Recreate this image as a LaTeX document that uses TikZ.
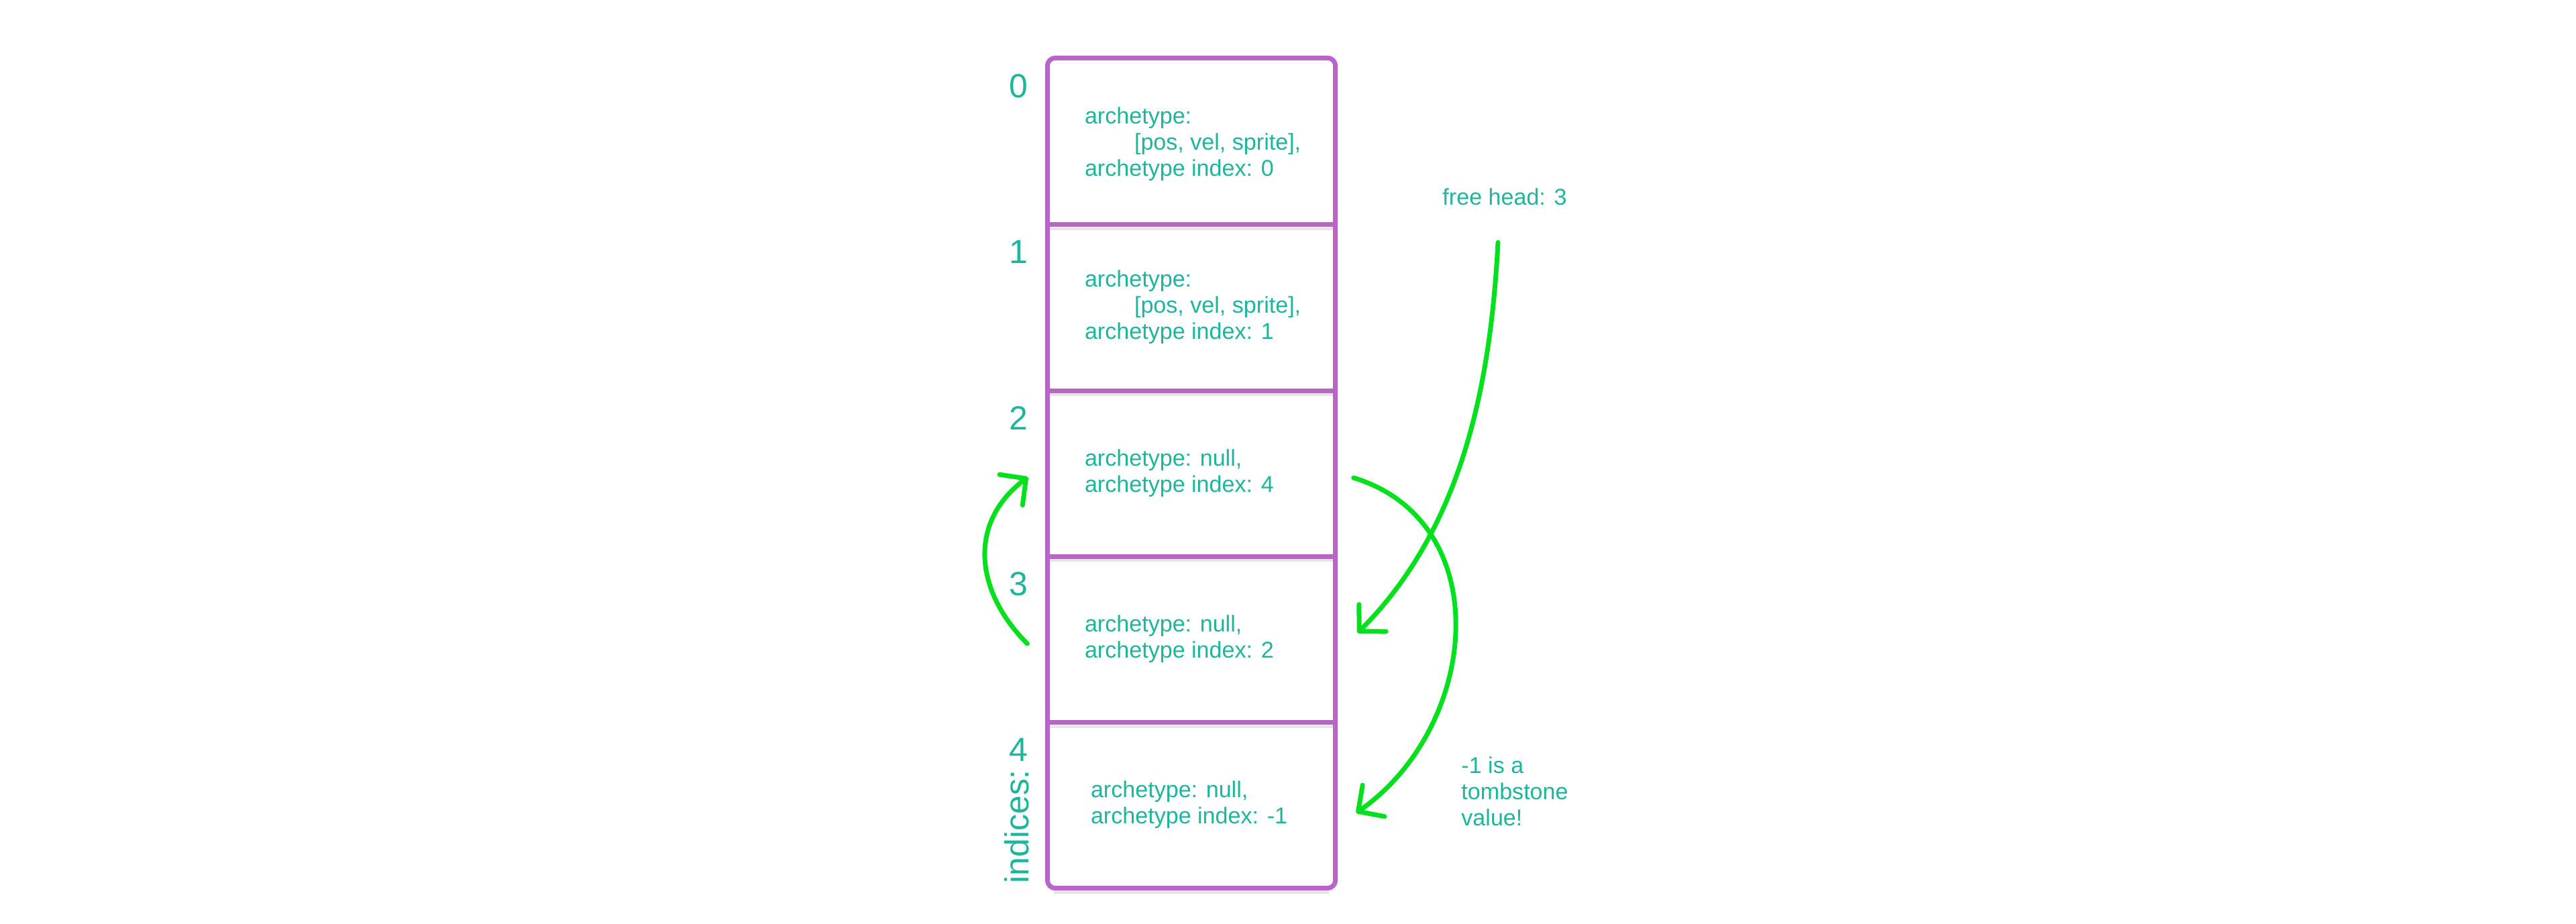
\documentclass[tikz,border=0pt]{standalone}
\usepackage{fontspec}
\setmainfont{Liberation Sans}
\usetikzlibrary{positioning,arrows.meta,calc}
\definecolor{slotpurple}{RGB}{184,100,200}
\definecolor{labelteal}{RGB}{30,181,157}
\definecolor{linkgreen}{RGB}{5,224,30}

\begin{document}
\begin{tikzpicture}[font=\fontsize{9.7}{11.1}\selectfont, text=labelteal,
    cell/.style={minimum width=4.28cm, minimum height=2.472cm, inner sep=0pt},
    frame/.style={draw=slotpurple, line width=0.07cm},
    slotshadow/.style={draw=black!10, line width=0.04cm},
    entry/.style={inner sep=0pt, align=left, anchor=west},
    idx/.style={font=\fontsize{14.2}{17}\selectfont},
    link/.style={draw=linkgreen, line width=0.07cm, line cap=round, -{Straight Barb[length=2.8mm,width=5.7mm,round]}}]
        \fill[white] (0,0) rectangle (38.4,13.76);
        \foreach \i in {0,...,4}{\node[cell] (c\i) at (17.76,{11.654-2.472*\i}) {};
            \node[idx] (n\i) at ($(c\i.north west)+(-0.43,-0.42)$) {\i};}
        \foreach \i in {0,...,3}{\draw[slotshadow] ([yshift=-0.6mm]c\i.south west) -- ([yshift=-0.6mm]c\i.south east);
            \draw[frame] (c\i.south west) -- (c\i.south east);}
        \draw[slotshadow] ([xshift=1mm,yshift=-0.6mm]c4.south west) -- ([xshift=-1mm,yshift=-0.6mm]c4.south east);
        \draw[frame, rounded corners=1.2mm] (c0.north west) rectangle (c4.south east);
        \node[idx, rotate=90] (ind) at ($(c4.south west)+(-0.46,0.92)$) {indices:};
        \node[entry, right=0.55cm of c0.west, yshift=-0.4mm] (t0) {archetype:\\\hspace*{0.74cm}[pos, vel, sprite],\\archetype index: 0};
        \node[entry, right=0.55cm of c1.west] (t1) {archetype:\\\hspace*{0.74cm}[pos, vel, sprite],\\archetype index: 1};
        \node[entry, right=0.55cm of c2.west] (t2) {archetype: null,\\archetype index: 4};
        \node[entry, right=0.55cm of c3.west] (t3) {archetype: null,\\archetype index: 2};
        \node[entry, right=0.64cm of c4.west] (t4) {archetype: null,\\archetype index: -1};
        \node[entry, anchor=center] (head) at (22.43,10.83) {free head: 3};
        \node[entry, right=1.87cm of c4.east, yshift=2mm] (tomb) {-1 is a\\tombstone\\value!};
        \draw[link] ([xshift=-1mm,yshift=-5.5mm]head.south) to[out=-93,in=45,looseness=0.9] ([xshift=3.3mm,yshift=0.9mm]c3.east);
        \draw[link] ([xshift=2.7mm,yshift=-0.7mm]c2.east) to[out=-17,in=35,looseness=1.15] ([xshift=3.1mm,yshift=-1.2mm]c4.east);
        \draw[link] ([xshift=-3mm,yshift=-0.7mm]c3.west) to[out=135,in=-143,looseness=1.15] ([xshift=-2.9mm,yshift=-0.6mm]c2.west);
    \end{tikzpicture}
\end{document}
